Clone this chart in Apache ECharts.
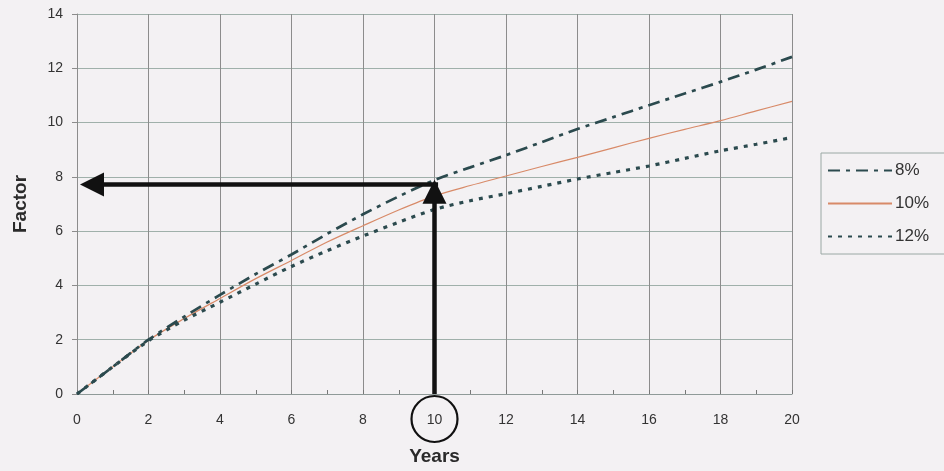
<!DOCTYPE html>
<html>
<head>
<meta charset="utf-8">
<script src="https://cdn.jsdelivr.net/npm/echarts@6/dist/echarts.min.js"></script>
<style>
  html, body { margin: 0; padding: 0; background: #f3f1f3; }
  #chart { width: 944px; height: 471px; }
</style>
</head>
<body>
<div id="chart"></div>
<script>
// Years on the horizontal axis
const years = [0,1,2,3,4,5,6,7,8,9,10,11,12,13,14,15,16,17,18,19,20];
// Factor for each rate, one value per year
const rate8  = [0,1.0,2.0,2.85,3.65,4.42,5.14,5.9,6.62,7.28,7.88,8.35,8.8,9.28,9.76,10.2,10.64,11.07,11.5,11.95,12.42];
const rate10 = [0,1.0,1.98,2.78,3.52,4.25,4.92,5.6,6.2,6.78,7.3,7.68,8.03,8.38,8.72,9.07,9.42,9.75,10.07,10.43,10.78];
const rate12 = [0,1.0,1.96,2.72,3.38,4.05,4.7,5.28,5.82,6.33,6.8,7.12,7.38,7.65,7.92,8.16,8.4,8.68,8.96,9.2,9.45];
const seriesNames = ['8%', '10%', '12%'];
const xTicks = [0,2,4,6,8,10,12,14,16,18,20];
const yTicks = [0,2,4,6,8,10,12,14];
// Reading guide: year 10 on the 8% curve, read across to the Factor axis
const readYear = 10;
const readFactor = 7.72;
// Where the arrowheads sit (the head is centred on the line end)
const upArrowEnd = 7.45;
const leftArrowEnd = 0.42;

const pairs = arr => years.map((y, i) => [y, arr[i]]);

const chart = echarts.init(document.getElementById('chart'));
const font = '"Liberation Sans", Arial, sans-serif';

chart.setOption({
  backgroundColor: '#f3f1f3',
  animation: false,
  grid: { left: 77, right: 152, top: 14, bottom: 77, containLabel: false },
  xAxis: {
    type: 'value',
    min: xTicks[0], max: xTicks[xTicks.length - 1], interval: 2,
    name: 'Years', nameLocation: 'middle', nameGap: 53,
    nameTextStyle: { fontFamily: font, fontWeight: 'bold', fontSize: 19, color: '#2a2a2a' },
    axisLine: { show: true, lineStyle: { color: '#8f9a98', width: 1 } },
    axisTick: { show: true, inside: true, length: 4, lineStyle: { color: '#777' } },
    minorTick: { show: true, splitNumber: 2, length: 4, lineStyle: { color: '#777' } },
    axisLabel: { fontFamily: font, fontSize: 14, color: '#333', margin: 19 },
    splitLine: { show: true, lineStyle: { color: '#8c8c8c', width: 1 } }
  },
  yAxis: {
    type: 'value',
    min: yTicks[0], max: yTicks[yTicks.length - 1], interval: 2,
    name: 'Factor', nameLocation: 'middle', nameGap: 47, nameRotate: 90,
    nameTextStyle: { fontFamily: font, fontWeight: 'bold', fontSize: 19, color: '#2a2a2a' },
    axisLine: { show: true, lineStyle: { color: '#8c8c8c', width: 1 } },
    axisTick: { show: true, length: 5, lineStyle: { color: '#8c8c8c' } },
    axisLabel: { fontFamily: font, fontSize: 14, color: '#333', margin: 14 },
    splitLine: { show: true, lineStyle: { color: '#9fb0aa', width: 1 } }
  },
  legend: {
    orient: 'vertical',
    left: 821, top: 153,
    data: seriesNames,
    itemWidth: 64, itemHeight: 14, itemGap: 16,
    padding: [9, 40, 9, 6],
    borderColor: '#9aa8a4', borderWidth: 1,
    backgroundColor: '#f3f1f3',
    itemStyle: { color: 'rgba(0,0,0,0)', borderWidth: 0 },
    textStyle: { fontFamily: font, fontSize: 17, color: '#333', padding: [0, 0, 0, -2] }
  },
  series: [
    {
      name: '8%', type: 'line', data: pairs(rate8), smooth: 0.3, symbol: 'none',
      lineStyle: { color: '#2b4a4e', width: 2.7, type: [12, 6, 4, 6] },
      itemStyle: { color: '#2b4a4e' }, z: 3
    },
    {
      name: '10%', type: 'line', data: pairs(rate10), smooth: 0.3, symbol: 'none',
      lineStyle: { color: '#d88a68', width: 1.2, type: 'solid' },
      itemStyle: { color: '#d88a68' }, z: 2
    },
    {
      name: '12%', type: 'line', data: pairs(rate12), smooth: 0.3, symbol: 'none',
      lineStyle: { color: '#2b4a4e', width: 3.2, type: [4, 6] },
      itemStyle: { color: '#2b4a4e' }, z: 3
    },
    {
      // Arrows from year 10 up to the curve and across to the Factor axis
      name: 'guide', type: 'line', data: [], symbol: 'none', clip: false,
      silent: true, z: 5,
      markLine: {
        silent: true, animation: false,
        label: { show: false },
        symbol: ['none', 'triangle'],
        symbolSize: 24,
        lineStyle: { color: '#111', width: 4.5, type: 'solid' },
        data: [
          [{ coord: [readYear, 0] }, { coord: [readYear, upArrowEnd] }],
          [{ coord: [readYear + 0.1, readFactor] }, { coord: [leftArrowEnd, readFactor] }]
        ]
      },
      markPoint: {
        silent: true, animation: false,
        symbol: 'circle', symbolSize: 46, symbolOffset: [0, 25],
        label: { show: false },
        itemStyle: { color: 'rgba(0,0,0,0)', borderColor: '#111', borderWidth: 2.2 },
        data: [{ coord: [readYear, 0] }]
      }
    }
  ]
});
</script>
</body>
</html>
